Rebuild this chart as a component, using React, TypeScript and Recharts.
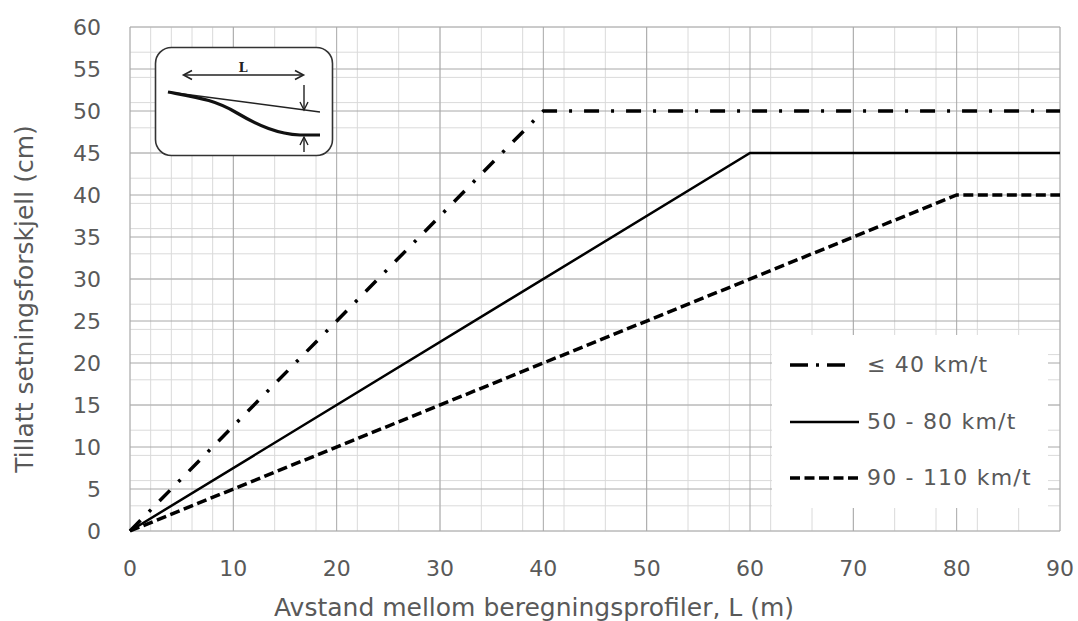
import { LineChart, Line, XAxis, YAxis, CartesianGrid, Legend, Label } from 'recharts'

// ── Data ──────────────────────────────────────────────────────────────────────

const SERIES_NAMES = ['≤ 40 km/t', '50 - 80 km/t', '90 - 110 km/t']

// break points for each speed class: L (m) -> allowed settlement difference (cm)
const LOW_SPEED_L = [0, 40, 90]
const LOW_SPEED_CM = [0, 50, 50]
const MID_SPEED_L = [0, 60, 90]
const MID_SPEED_CM = [0, 45, 45]
const HIGH_SPEED_L = [0, 80, 90]
const HIGH_SPEED_CM = [0, 40, 40]

const X_TICKS = [0, 10, 20, 30, 40, 50, 60, 70, 80, 90]
const Y_TICKS = [0, 5, 10, 15, 20, 25, 30, 35, 40, 45, 50, 55, 60]

const X_LABEL = 'Avstand mellom beregningsprofiler, L (m)'
const Y_LABEL = 'Tillatt setningsforskjell (cm)'

// minor grid every 2 m / 1 cm
const X_MINOR = Array.from({ length: 46 }, (_, i) => i * 2)
const Y_MINOR = Array.from({ length: 61 }, (_, i) => i)

const toRows = (xs: number[], ys: number[]) => xs.map((x, i) => ({ x, y: ys[i] }))

const lowRows = toRows(LOW_SPEED_L, LOW_SPEED_CM)
const midRows = toRows(MID_SPEED_L, MID_SPEED_CM)
const highRows = toRows(HIGH_SPEED_L, HIGH_SPEED_CM)

// ── Styles ────────────────────────────────────────────────────────────────────

const FONT = '"DejaVu Sans", Verdana, sans-serif'
const TEXT = '#595959'

const LINE_STYLE: Record<string, { width: number; dash?: string; legendDash?: string }> = {
  [SERIES_NAMES[0]]: { width: 3.5, dash: '15 12 3 12', legendDash: '18 8 3 8' },
  [SERIES_NAMES[1]]: { width: 2.5 },
  [SERIES_NAMES[2]]: { width: 3.5, dash: '10 4.5', legendDash: '10 4.5' },
}

// ── Legend box ────────────────────────────────────────────────────────────────

function LegendBox() {
  return (
    <div style={{ width: 276, height: 173, background: '#fff', position: 'relative' }}>
      {SERIES_NAMES.map((name, i) => {
        const st = LINE_STYLE[name]
        const top = 30 + i * 56.5
        return (
          <div key={name}>
            <svg
              width={70}
              height={10}
              style={{ position: 'absolute', left: 18, top: top - 5 }}
            >
              <line
                x1={0}
                y1={5}
                x2={i === 0 ? 58 : 69}
                y2={5}
                stroke="#000"
                strokeWidth={st.width}
                strokeDasharray={st.legendDash}
              />
            </svg>
            <span
              style={{
                position: 'absolute',
                left: 95,
                top: top - 14,
                lineHeight: '28px',
                fontSize: 22,
                letterSpacing: 1.2,
                color: TEXT,
                fontFamily: FONT,
                whiteSpace: 'nowrap',
              }}
            >
              {name}
            </span>
          </div>
        )
      })}
    </div>
  )
}

// ── Inset sketch ──────────────────────────────────────────────────────────────

function InsetSketch() {
  return (
    <svg
      width={1078}
      height={621}
      style={{ position: 'absolute', left: 0, top: 0, pointerEvents: 'none' }}
    >
      <rect x={155.5} y={47.5} width={177} height={108} rx={16} fill="#fff" stroke="#333" strokeWidth={1.6} />
      {/* L dimension arrow */}
      <line x1={184} y1={75} x2={303} y2={75} stroke="#222" strokeWidth={1.6} />
      <polyline points="192,70.5 183.5,75 192,79.5" fill="none" stroke="#222" strokeWidth={1.6} />
      <polyline points="295,70.5 303.5,75 295,79.5" fill="none" stroke="#222" strokeWidth={1.6} />
      <text x={243} y={72} textAnchor="middle" fontFamily='"DejaVu Serif", serif' fontWeight="bold" fontSize={13} fill="#222">
        L
      </text>
      {/* original and settled profile */}
      <line x1={168} y1={92} x2={320} y2={112} stroke="#222" strokeWidth={1.4} />
      <path d="M168 92 C 200 98, 215 100, 237 113 S 278 134, 300 135 L 320 135" fill="none" stroke="#111" strokeWidth={3.2} />
      {/* settlement arrows */}
      <line x1={304} y1={85} x2={304} y2={110} stroke="#222" strokeWidth={1.4} />
      <polyline points="300,102 304,110 308,102" fill="none" stroke="#222" strokeWidth={1.4} />
      <line x1={304} y1={137} x2={304} y2={152} stroke="#222" strokeWidth={1.4} />
      <polyline points="300,145 304,137 308,145" fill="none" stroke="#222" strokeWidth={1.4} />
    </svg>
  )
}

// ── Chart ─────────────────────────────────────────────────────────────────────

export default function App() {
  return (
    <div style={{ position: 'absolute', left: 0, top: 0, width: 1078, height: 621, background: '#fff', fontFamily: FONT }}>
      <LineChart width={1078} height={621} margin={{ top: 27, right: 18, bottom: 0, left: 0 }}>
        <CartesianGrid stroke="#dadada" strokeWidth={1} verticalValues={X_MINOR} horizontalValues={Y_MINOR} />
        <CartesianGrid stroke="#a8a8a8" strokeWidth={1} verticalValues={X_TICKS} horizontalValues={Y_TICKS} />
        <XAxis
          type="number"
          dataKey="x"
          domain={[0, 90]}
          ticks={X_TICKS}
          allowDuplicatedCategory={false}
          tick={{ fill: TEXT, fontSize: 22 }}
          tickLine={false}
          axisLine={false}
          tickMargin={23}
          height={90}
        >
          <Label
            content={({ viewBox }: any) => (
              <text
                x={viewBox.x + viewBox.width / 2 - 61}
                y={viewBox.y + viewBox.height - 5}
                textAnchor="middle"
                fill={TEXT}
                fontSize={25}
                fontFamily={FONT}
              >
                {X_LABEL}
              </text>
            )}
          />
        </XAxis>
        <YAxis
          type="number"
          domain={[0, 60]}
          ticks={Y_TICKS}
          tick={{ fill: TEXT, fontSize: 22 }}
          tickLine={false}
          axisLine={false}
          tickMargin={23}
          width={130}
        >
          <Label
            content={({ viewBox }: any) => {
              const cx = 24
              const cy = viewBox.y + viewBox.height / 2 + 20
              return (
                <text
                  x={cx}
                  y={cy}
                  dy={9}
                  transform={`rotate(-90, ${cx}, ${cy})`}
                  textAnchor="middle"
                  fill={TEXT}
                  fontSize={25}
                  fontFamily={FONT}
                >
                  {Y_LABEL}
                </text>
              )
            }}
          />
        </YAxis>
        <Legend
          layout="vertical"
          align="center"
          verticalAlign="middle"
          wrapperStyle={{ left: 772, top: 335, width: 276, height: 173, margin: 0, padding: 0 }}
          content={() => <LegendBox />}
        />
        <Line
          data={lowRows}
          dataKey="y"
          name={SERIES_NAMES[0]}
          type="linear"
          stroke="#000"
          strokeWidth={LINE_STYLE[SERIES_NAMES[0]].width}
          strokeDasharray={LINE_STYLE[SERIES_NAMES[0]].dash}
          dot={false}
          activeDot={false}
          isAnimationActive={false}
        />
        <Line
          data={midRows}
          dataKey="y"
          name={SERIES_NAMES[1]}
          type="linear"
          stroke="#000"
          strokeWidth={LINE_STYLE[SERIES_NAMES[1]].width}
          dot={false}
          activeDot={false}
          isAnimationActive={false}
        />
        <Line
          data={highRows}
          dataKey="y"
          name={SERIES_NAMES[2]}
          type="linear"
          stroke="#000"
          strokeWidth={LINE_STYLE[SERIES_NAMES[2]].width}
          strokeDasharray={LINE_STYLE[SERIES_NAMES[2]].dash}
          dot={false}
          activeDot={false}
          isAnimationActive={false}
        />
      </LineChart>
      <InsetSketch />
    </div>
  )
}
